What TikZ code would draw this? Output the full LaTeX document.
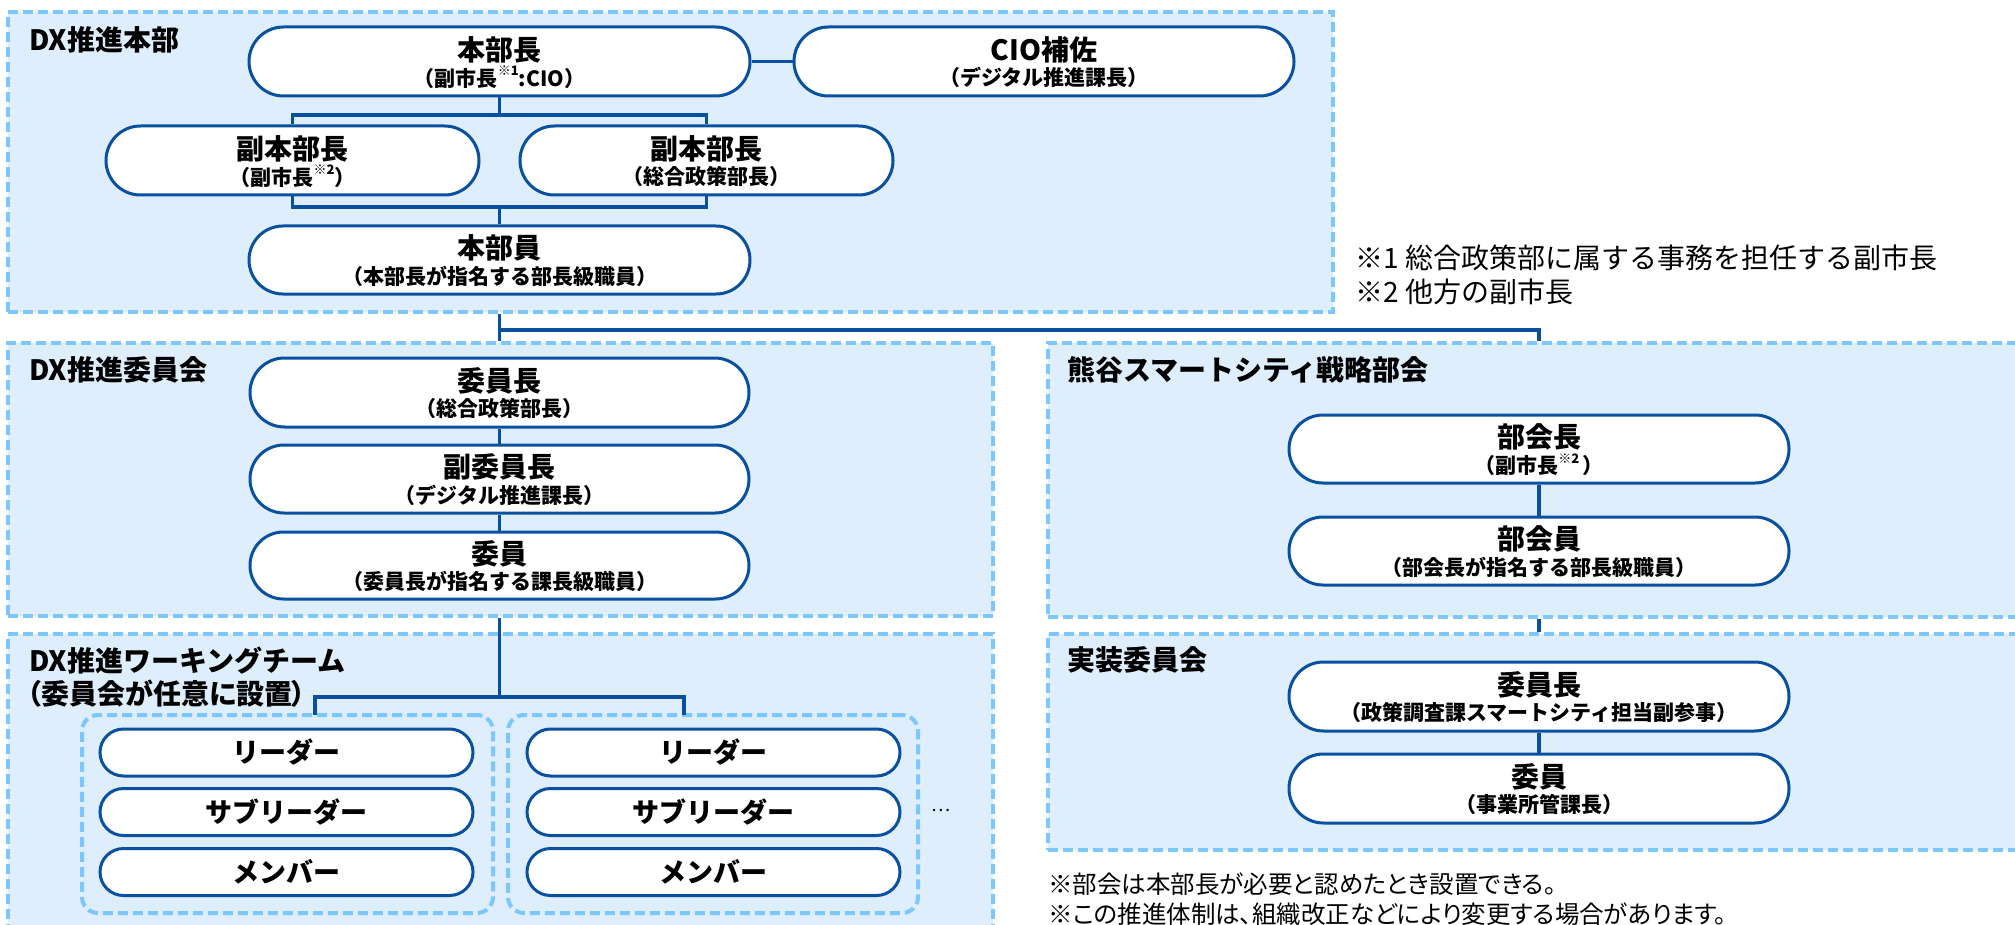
\documentclass[tikz,border=0pt]{standalone}
\usepackage{fontspec}
\setmainfont{Noto Sans CJK JP}
\newfontfamily\jpp{Noto Sans CJK JP}[RawFeature=+palt]
\usetikzlibrary{calc,shapes.misc}
\definecolor{boxblue}{RGB}{10,80,160}
\definecolor{dashblue}{RGB}{125,199,255}
\definecolor{fillblue}{RGB}{222,238,253}
\newcommand\sups[1]{\raisebox{0.5em}{\fontsize{13}{13}\selectfont #1}}
\tikzset{
  outerbox/.style={draw=dashblue, line width=4pt, dash pattern=on 10pt off 5pt, fill=fillblue, rectangle, inner sep=0pt},
  groupbox/.style={draw=dashblue, line width=4pt, dash pattern=on 10pt off 5pt, rectangle, rounded corners=16pt, inner sep=0pt},
  pill/.style={draw=boxblue, line width=3pt, fill=white, rounded rectangle, inner sep=0pt},
  conn/.style={draw=boxblue, line width=3.5pt},
  ttl/.style={font=\fontsize{28}{32}\selectfont\bfseries, inner sep=0pt},
  subt/.style={font=\fontsize{21}{24}\selectfont\bfseries, inner sep=0pt},
  sect/.style={font=\fontsize{28}{32}\selectfont\bfseries, inner sep=0pt, anchor=west},
  note/.style={font=\fontsize{28}{32}\selectfont, inner sep=0pt, anchor=west},
  bnote/.style={font=\jpp\fontsize{24.5}{28}\selectfont, inner sep=0pt, anchor=west},
  wtl/.style={font=\fontsize{27}{30}\selectfont\bfseries, inner sep=0pt},
}
\newcommand\mkpill[7]{%
  \node[pill, minimum width=#4pt, minimum height=#5pt] (#1) at (#2,#3) {};
  \node[ttl] (#1t) at (#2,#3-12) {#6};
  \node[subt] (#1s) at (#2,#3+16) {#7};
}
\newcommand\mkwt[4]{%
  \node[pill, minimum width=373pt, minimum height=47pt] (#1) at (#2,#3) {};
  \node[wtl] (#1t) at (#2,#3) {#4};
}
\begin{document}
\begin{tikzpicture}[x=1pt,y=-1pt]
\useasboundingbox (0,0) rectangle (2015,925);
\clip (0,0) rectangle (2015,925);
% outer boxes
\node[outerbox, minimum width=1325pt, minimum height=300pt] (hq) at (670.5,162) {};
\node[outerbox, minimum width=985pt, minimum height=273pt] (com) at (500.5,479.5) {};
\node[outerbox, minimum width=985pt, minimum height=320pt] (wt) at (500.5,794) {};
\node[outerbox, minimum width=1000pt, minimum height=274pt] (kum) at (1548,480) {};
\node[outerbox, minimum width=1000pt, minimum height=216pt] (jis) at (1548,742) {};
\node[groupbox, minimum width=411pt, minimum height=198pt] (g1) at (287.5,814) {};
\node[groupbox, minimum width=410pt, minimum height=198pt] (g2) at (713,814) {};
% section labels
\node[sect] (hql) at (29,40) {DX推進本部};
\node[sect] (coml) at (29,370) {DX推進委員会};
\node[sect] (wtl1) at (29,661) {DX推進ワーキングチーム};
\node[sect, font=\jpp\fontsize{28}{32}\selectfont\bfseries] (wtl2) at (27,694) {（委員会が任意に設置）};
\node[sect] (kuml) at (1067,370) {熊谷スマートシティ戦略部会};
\node[sect] (jisl) at (1067,660) {実装委員会};
% coordinates for connectors
\coordinate (br1) at (499.5,115);
\coordinate (br2) at (499.5,207);
\coordinate (br3) at (1539,330);
\coordinate (br4) at (499.5,697);
\coordinate (g1top) at (315,715);
\coordinate (g2top) at (684,715);
% pills
\mkpill{b1}{499.5}{61.5}{501}{69}{本部長}{（副市長\sups{※1}:CIO）}
\mkpill{cio}{1044}{61.5}{500}{69}{CIO補佐}{（デジタル推進課長）}
\mkpill{v1}{292.5}{160.5}{373}{69}{副本部長}{（副市長\sups{※2}）}
\mkpill{v2}{706.5}{160.5}{373}{69}{副本部長}{（総合政策部長）}
\mkpill{m}{499.5}{260}{501}{68}{本部員}{（本部長が指名する部長級職員）}
\mkpill{c1}{499.5}{392.5}{499}{69}{委員長}{（総合政策部長）}
\mkpill{c2}{499.5}{479}{499}{68}{副委員長}{（デジタル推進課長）}
\mkpill{c3}{499.5}{565.5}{499}{67}{委員}{（委員長が指名する課長級職員）}
\mkpill{k1}{1539}{449}{500}{68}{部会長}{（副市長\sups{※2}\,）}
\mkpill{k2}{1539}{551}{500}{68}{部会員}{（部会長が指名する部長級職員）}
\mkpill{j1}{1539}{696.5}{500}{69}{委員長}{（政策調査課スマートシティ担当副参事）}
\mkpill{j2}{1539}{788.5}{500}{69}{委員}{（事業所管課長）}
\mkwt{wa1}{286.5}{752.5}{リーダー}
\mkwt{wb1}{286.5}{812}{サブリーダー}
\mkwt{wc1}{286.5}{872}{メンバー}
\mkwt{wa2}{713.5}{752.5}{リーダー}
\mkwt{wb2}{713.5}{812}{サブリーダー}
\mkwt{wc2}{713.5}{872}{メンバー}
% connectors
\draw[conn] (b1.east) -- (cio.west);
\draw[conn] (b1.south) -- (br1);
\draw[conn] (v1.north) -- (v1.north |- br1) -- (v2.north |- br1) -- (v2.north);
\draw[conn] (v1.south) -- (v1.south |- br2) -- (v2.south |- br2) -- (v2.south);
\draw[conn] (br2) -- (m.north);
\draw[conn] (m.south |- hq.south) -- (m.south |- com.north);
\draw[conn] (m.south |- br3) -- (br3) -- (br3 |- kum.north);
\draw[conn] (c1.south) -- (c2.north);
\draw[conn] (c2.south) -- (c3.north);
\draw[conn] (c3.south |- com.south) -- (br4);
\draw[conn] (g1top) -- (g1top |- br4) -- (g2top |- br4) -- (g2top);
\draw[conn] (k1.south) -- (k2.north);
\draw[conn] (k2.south |- kum.south) -- (k2.south |- jis.north);
\draw[conn] (j1.south) -- (j2.north);
% notes
\node[note] (n1) at (1355,258) {※1 総合政策部に属する事務を担任する副市長};
\node[note] (n2) at (1355,292) {※2 他方の副市長};
\node[bnote] (n3) at (1048,884) {※部会は本部長が必要と認めたとき設置できる。};
\node[bnote] (n4) at (1048,914) {※この推進体制は、組織改正などにより変更する場合があります。};
\node[font=\fontsize{18}{20}\selectfont, inner sep=0pt] (dots) at (941,810) {…};
\end{tikzpicture}
\end{document}
